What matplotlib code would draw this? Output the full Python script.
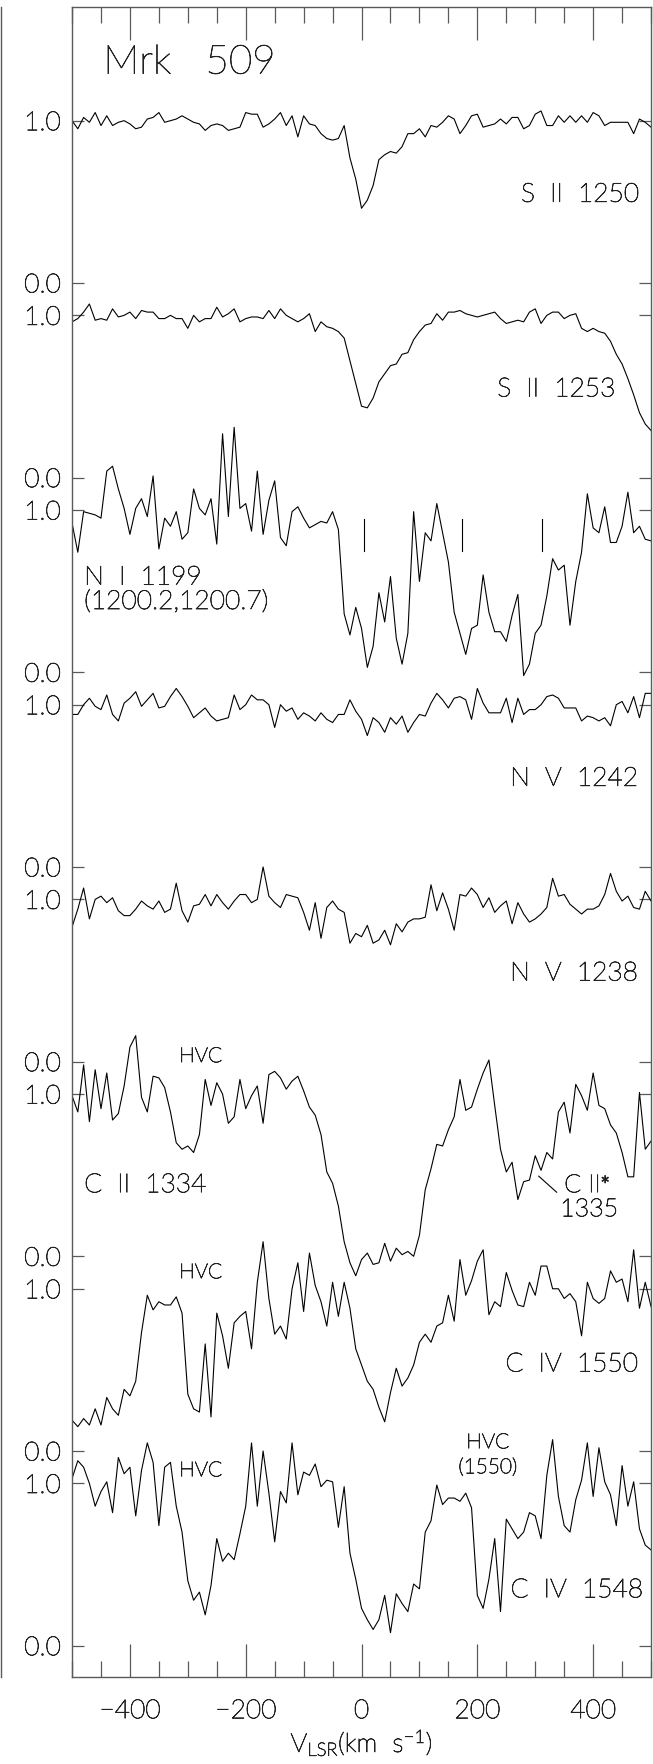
import matplotlib
matplotlib.use('Agg')
import matplotlib.pyplot as plt
import matplotlib.patheffects as pe
from matplotlib.lines import Line2D
from matplotlib.ticker import MultipleLocator
import numpy as np

plt.rcParams['font.family'] = 'Lato'
plt.rcParams['font.weight'] = 'light'
plt.rcParams['mathtext.fontset'] = 'custom'
plt.rcParams['mathtext.rm'] = 'Lato:light'
plt.rcParams['mathtext.it'] = 'Lato:light'

FRAME = '#5a5a5a'
TEXT = '#222222'

# velocity grid (km/s), one normalised flux value per bin
vel = np.linspace(-500, 500, 101)

s2_1250 = [1.00, 0.95, 1.02, 0.99, 1.05, 0.97, 1.03, 0.97, 0.99, 1.00,
           0.98, 0.95, 0.96, 1.01, 1.02, 1.05, 0.99, 1.00, 1.01, 1.03,
           1.01, 0.99, 0.98, 0.94, 0.97, 0.98, 0.97, 0.94, 0.95, 0.96,
           1.05, 1.04, 1.04, 0.96, 0.98, 1.01, 1.05, 0.97, 1.03, 0.90,
           1.03, 0.98, 0.97, 0.92, 0.89, 0.88, 0.89, 0.97, 0.77, 0.64,
           0.46, 0.51, 0.60, 0.76, 0.79, 0.81, 0.80, 0.84, 0.92, 0.92,
           0.95, 0.90, 0.97, 0.96, 0.99, 1.03, 1.01, 0.92, 0.97, 1.03,
           1.04, 0.96, 0.97, 0.98, 1.01, 0.98, 1.02, 1.02, 0.95, 0.97,
           1.04, 1.06, 0.97, 0.97, 1.03, 0.99, 1.03, 0.99, 1.03, 0.99,
           1.05, 1.03, 0.97, 0.99, 0.99, 0.99, 0.99, 0.92, 1.01, 0.99,
           0.96]

s2_1253 = [0.96, 0.98, 1.02, 1.07, 0.97, 0.98, 0.97, 1.04, 0.99, 1.00,
           1.02, 0.98, 1.03, 1.02, 1.02, 0.98, 0.98, 1.00, 0.98, 0.98,
           0.92, 1.00, 0.96, 0.98, 0.98, 1.05, 0.99, 1.01, 1.04, 0.96,
           0.98, 0.99, 0.99, 0.98, 1.03, 0.98, 1.04, 1.00, 0.98, 0.96,
           0.98, 1.01, 0.90, 0.96, 0.93, 0.92, 0.90, 0.86, 0.72, 0.58,
           0.44, 0.43, 0.49, 0.59, 0.64, 0.69, 0.70, 0.76, 0.77, 0.85,
           0.90, 0.94, 0.95, 1.01, 0.97, 1.02, 1.02, 1.03, 1.01, 1.00,
           0.99, 1.00, 1.01, 1.02, 0.98, 0.95, 0.96, 0.97, 0.96, 1.02,
           1.04, 0.95, 1.00, 1.02, 1.02, 0.98, 1.00, 1.01, 0.92, 0.90,
           0.92, 0.90, 0.89, 0.84, 0.76, 0.70, 0.61, 0.51, 0.40, 0.33,
           0.29]

n1_1199 = [0.92, 0.74, 0.99, 0.98, 0.97, 0.95, 1.24, 1.27, 1.13, 1.01,
           0.85, 1.01, 1.07, 0.96, 1.21, 0.76, 0.95, 0.90, 0.99, 0.82,
           0.86, 1.13, 1.01, 0.97, 1.07, 0.79, 1.47, 0.96, 1.51, 1.01,
           1.04, 0.87, 1.24, 0.85, 1.06, 1.18, 0.83, 0.78, 0.99, 1.02,
           0.95, 0.89, 0.91, 0.93, 0.92, 0.99, 0.88, 0.36, 0.23, 0.40,
           0.27, 0.03, 0.16, 0.49, 0.31, 0.59, 0.21, 0.05, 0.24, 0.99,
           0.56, 0.86, 0.81, 1.04, 0.86, 0.68, 0.37, 0.24, 0.11, 0.27,
           0.29, 0.60, 0.37, 0.25, 0.25, 0.19, 0.35, 0.48, -0.02, 0.05,
           0.24, 0.29, 0.47, 0.70, 0.63, 0.66, 0.29, 0.56, 0.74, 1.10,
           0.89, 0.86, 1.02, 0.80, 0.80, 0.90, 1.11, 0.86, 0.90, 0.82,
           0.81]

n5_1242 = [0.94, 0.94, 1.00, 1.04, 0.99, 0.97, 1.06, 0.94, 0.90, 1.01,
           1.04, 1.08, 0.99, 1.03, 1.07, 0.98, 0.99, 1.05, 1.10, 1.05,
           0.99, 0.92, 0.95, 0.98, 0.93, 0.90, 0.91, 0.92, 1.06, 0.97,
           1.00, 1.06, 1.03, 1.03, 1.00, 0.86, 1.00, 0.96, 0.98, 0.91,
           0.95, 0.93, 0.90, 0.95, 0.91, 0.89, 0.94, 0.94, 1.03, 0.96,
           0.91, 0.81, 0.92, 0.89, 0.83, 0.92, 0.88, 0.93, 0.83, 0.89,
           0.94, 0.93, 1.01, 1.07, 1.03, 0.98, 1.04, 1.05, 1.03, 0.91,
           1.10, 1.01, 0.95, 0.95, 0.95, 1.04, 0.89, 1.04, 0.94, 0.97,
           0.97, 1.00, 1.05, 1.06, 1.04, 0.98, 0.98, 0.98, 0.90, 0.93,
           0.92, 0.90, 0.92, 0.87, 1.00, 1.02, 0.95, 1.05, 0.92, 1.07,
           1.07]

n5_1238 = [0.83, 0.94, 1.07, 0.88, 1.00, 1.02, 0.98, 1.01, 0.93, 0.90,
           0.90, 0.94, 0.99, 0.96, 0.94, 0.99, 0.92, 0.94, 1.10, 0.93,
           0.86, 0.96, 0.97, 1.03, 0.96, 1.03, 0.98, 0.94, 0.99, 1.03,
           1.03, 0.98, 1.00, 1.20, 1.02, 0.98, 0.95, 1.03, 1.02, 1.01,
           0.92, 0.81, 0.98, 0.76, 0.95, 0.99, 0.94, 0.92, 0.73, 0.79,
           0.77, 0.84, 0.73, 0.75, 0.81, 0.72, 0.85, 0.80, 0.86, 0.88,
           0.88, 0.89, 1.09, 0.93, 1.04, 0.94, 0.81, 1.03, 1.02, 1.07,
           1.03, 0.95, 1.01, 0.92, 0.96, 0.99, 0.85, 0.98, 0.91, 0.86,
           0.88, 0.91, 0.95, 1.13, 1.02, 1.03, 0.97, 0.94, 0.91, 0.94,
           0.94, 0.96, 1.03, 1.16, 1.05, 0.99, 1.02, 0.95, 0.94, 1.05,
           0.99]

c2_1334 = [0.99, 0.89, 1.18, 0.83, 1.15, 0.91, 1.13, 0.84, 0.88, 1.05,
           1.29, 1.36, 0.98, 0.89, 1.11, 1.10, 1.04, 0.89, 0.70, 0.66,
           0.68, 0.64, 0.75, 1.09, 0.93, 1.07, 1.00, 0.82, 0.86, 1.09,
           0.91, 0.99, 1.05, 0.82, 1.12, 1.14, 1.10, 1.03, 1.08, 1.11,
           1.02, 0.92, 0.87, 0.75, 0.52, 0.45, 0.31, 0.09, -0.04, -0.12,
           -0.02, 0.02, -0.05, -0.04, 0.08, -0.03, 0.05, 0.01, 0.03, 0.00,
           0.13, 0.41, 0.54, 0.69, 0.68, 0.78, 0.86, 1.09, 0.90, 0.92,
           1.03, 1.13, 1.21, 0.93, 0.66, 0.52, 0.58, 0.35, 0.46, 0.47,
           0.62, 0.53, 0.64, 0.60, 0.89, 0.95, 0.76, 1.06, 0.99, 0.90,
           1.13, 0.93, 0.91, 0.81, 0.76, 0.64, 0.49, 0.49, 1.01, 0.66,
           0.71]

c4_1550 = [0.19, 0.15, 0.20, 0.16, 0.26, 0.16, 0.33, 0.26, 0.22, 0.38,
           0.34, 0.43, 0.73, 0.96, 0.87, 0.92, 0.90, 0.90, 0.95, 0.85,
           0.35, 0.26, 0.24, 0.66, 0.21, 0.85, 0.71, 0.51, 0.79, 0.83,
           0.86, 0.63, 1.04, 1.29, 0.94, 0.72, 0.77, 0.69, 1.00, 1.16,
           0.86, 1.22, 1.02, 0.92, 0.77, 1.04, 0.83, 1.04, 0.88, 0.63,
           0.53, 0.43, 0.38, 0.27, 0.18, 0.36, 0.51, 0.40, 0.45, 0.53,
           0.67, 0.72, 0.67, 0.77, 0.79, 0.96, 0.80, 1.18, 0.96, 1.05,
           1.17, 1.24, 0.84, 0.92, 0.89, 1.10, 0.99, 0.90, 0.89, 1.04,
           0.96, 1.14, 1.14, 1.00, 1.00, 0.94, 0.97, 0.92, 0.71, 1.04,
           0.94, 0.91, 0.94, 1.11, 1.04, 1.06, 0.92, 1.24, 0.88, 1.04,
           0.89]

c4_1548 = [1.03, 1.14, 1.10, 1.00, 0.86, 0.95, 1.01, 0.82, 1.16, 1.06,
           1.10, 0.80, 1.08, 1.25, 1.13, 0.74, 1.10, 1.13, 0.86, 0.70,
           0.40, 0.28, 0.33, 0.19, 0.37, 0.66, 0.52, 0.57, 0.53, 0.69,
           0.86, 1.25, 0.86, 1.20, 0.94, 0.64, 0.95, 0.88, 1.25, 0.93,
           1.07, 1.05, 1.12, 0.98, 1.02, 1.01, 0.73, 0.98, 0.57, 0.41,
           0.23, 0.16, 0.10, 0.16, 0.31, 0.08, 0.32, 0.26, 0.21, 0.38,
           0.35, 0.70, 0.77, 0.99, 0.87, 0.91, 0.91, 0.89, 0.94, 0.85,
           0.31, 0.23, 0.41, 0.66, 0.21, 0.78, 0.72, 0.66, 0.70, 0.82,
           0.80, 0.66, 1.05, 1.27, 0.92, 0.74, 0.70, 0.90, 1.02, 1.25,
           0.92, 1.22, 1.01, 0.93, 0.74, 1.11, 0.86, 1.01, 0.72, 0.62,
           0.59]

# stacked from the bottom up
spectra = [c4_1548, c4_1550, c2_1334, n5_1238, n5_1242, n1_1199, s2_1253, s2_1250]
step = 1.2

# N I 1200.2 / 1200.7 marker velocities
ni_marks = [5, 174, 311]

fig = plt.figure(figsize=(6.53, 17.65), dpi=100)
ax = fig.add_axes([0.1103, 0.0493, 0.8867, 0.9462])

for i, flux in enumerate(spectra):
    ax.plot(vel, np.array(flux) + i * step, color='black', lw=0.8)

ax.set_xlim(-500, 500)
ax.set_ylim(-0.193, 10.101)

yt, yl = [], []
for i in range(len(spectra)):
    yt += [i * step, i * step + 1.0]
    yl += ['0.0', '1.0']
ax.set_yticks(yt)
ax.set_yticklabels(yl)
ax.xaxis.set_major_locator(MultipleLocator(200))
ax.xaxis.set_minor_locator(MultipleLocator(50))

ax.tick_params(axis='both', which='both', direction='in', top=True, right=True,
               color=FRAME, width=0.9, labelcolor=TEXT, labelsize=19)
ax.tick_params(axis='x', which='major', length=24, pad=16)
ax.tick_params(axis='x', which='minor', length=11.5)
ax.tick_params(axis='y', which='major', length=8.5, pad=8)
for sp in ax.spines.values():
    sp.set_color(FRAME)
    sp.set_linewidth(1.0)

fig.text(0.5536, 0.0068, r'V$_{\mathrm{LSR}}$(km  s$^{-1}$)', ha='center',
         va='baseline', color=TEXT, fontsize=19)

# N I fine-structure markers
off_n1 = 5 * step
for v in ni_marks:
    ax.plot([v, v], [off_n1 + 0.75, off_n1 + 0.945], color='black', lw=0.8)

kw = dict(color=TEXT, fontsize=19)
ax.text(-446, 9.69, 'Mrk   509', color=TEXT, fontsize=29)
ax.text(479, 8.90, 'S  II  1250', ha='right', **kw)
ax.text(438, 7.70, 'S  II  1253', ha='right', **kw)
ax.text(-479, 6.54, 'N  I  1199', **kw)
ax.text(-479, 6.39, '(1200.2,1200.7)', **kw)
ax.text(477, 5.30, 'N  V  1242', ha='right', **kw)
ax.text(477, 4.10, 'N  V  1238', ha='right', **kw)
ax.text(-479, 2.795, 'C  II  1334', **kw)
ax.text(350, 2.795, r'C II$^{\ast}$', color=TEXT, fontsize=18)
ax.text(343, 2.647, '1335', color=TEXT, fontsize=18)
ax.plot([306, 337], [2.894, 2.795], color='black', lw=0.8)
ax.text(477, 1.69, 'C  IV  1550', ha='right', **kw)
ax.text(486, 0.298, 'C  IV  1548', ha='right', **kw)

hkw = dict(color=TEXT, fontsize=15)
ax.text(-315, 3.597, 'HVC', **hkw)
ax.text(-315, 2.265, 'HVC', **hkw)
ax.text(-315, 1.044, 'HVC', **hkw)
ax.text(218, 1.217, 'HVC', ha='center', **hkw)
ax.text(218, 1.063, '(1550)', ha='center', **hkw)

# thicken the light strokes a little
thick = [pe.withStroke(linewidth=0.55, foreground=TEXT)]
for t in ax.texts + fig.texts + ax.get_xticklabels() + ax.get_yticklabels():
    t.set_path_effects(thick)

# edge of the neighbouring panel
fig.add_artist(Line2D([0.0015, 0.0015], [0.0493, 0.9955], transform=fig.transFigure,
                      color=FRAME, lw=1.0))

fig.savefig('out.png', dpi=100)
